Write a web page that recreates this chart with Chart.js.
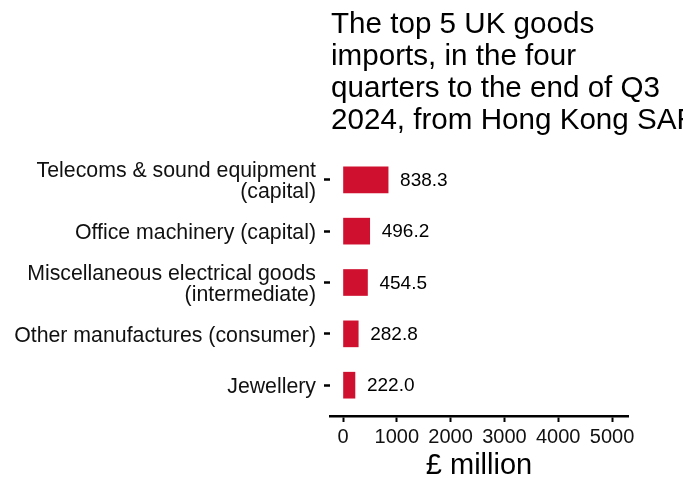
<!DOCTYPE html>
<html lang="en">
<head>
  <meta charset="UTF-8" />
  <title>Top 5 UK goods imports from Hong Kong SAR</title>
  <script src="https://cdn.jsdelivr.net/npm/chart.js"></script>
  <style>
    html, body { margin: 0; padding: 0; background: #fff; }
    #wrap { width: 683px; height: 478px; position: relative; }
  </style>
</head>
<body>
  <div id="wrap"><canvas id="importsChart"></canvas></div>

  <script>
    // Values
    var categories = [
      ['Telecoms & sound equipment', '(capital)'],
      'Office machinery (capital)',
      ['Miscellaneous electrical goods', '(intermediate)'],
      'Other manufactures (consumer)',
      'Jewellery'
    ];
    var importValues = [838.3, 496.2, 454.5, 282.8, 222.0];
    var xTickValues = [0, 1000, 2000, 3000, 4000, 5000];
    var titleLines = [
      'The top 5 UK goods',
      'imports, in the four',
      'quarters to the end of Q3',
      '2024, from Hong Kong SAR'
    ];

    var FONT = "'Liberation Sans', Arial, sans-serif";
    var BAR_RED = '#CF102E';

    // bars sit on a linear index axis so the end padding matches ggplot (0.6 of a slot)
    var points = importValues.map(function(v, i) { return { x: v, y: i }; });

    // title, left aligned with the plot panel
    var titlePlugin = {
      id: 'panelTitle',
      afterDraw: function(chart) {
        var ctx = chart.ctx;
        ctx.save();
        ctx.font = '29.6px ' + FONT;
        ctx.fillStyle = '#000';
        ctx.textAlign = 'left';
        ctx.textBaseline = 'alphabetic';
        titleLines.forEach(function(line, i) {
          ctx.fillText(line, chart.chartArea.left + 1, 33 + i * 32);
        });
        ctx.restore();
      }
    };

    // value labels to the right of each bar
    var valueLabels = {
      id: 'valueLabels',
      afterDatasetsDraw: function(chart) {
        var ctx = chart.ctx;
        var meta = chart.getDatasetMeta(0);
        ctx.save();
        ctx.font = '19px ' + FONT;
        ctx.fillStyle = '#000';
        ctx.textAlign = 'left';
        ctx.textBaseline = 'middle';
        meta.data.forEach(function(bar, i) {
          ctx.fillText(importValues[i].toFixed(1), bar.x + 12, bar.y + 1);
        });
        ctx.restore();
      }
    };

    new Chart(document.getElementById('importsChart'), {
      type: 'bar',
      data: {
        datasets: [{
          data: points,
          backgroundColor: BAR_RED,
          borderWidth: 0,
          barThickness: 26
        }]
      },
      options: {
        indexAxis: 'y',
        responsive: true,
        maintainAspectRatio: false,
        animation: false,
        layout: { padding: { top: 149, right: 55, bottom: 0, left: 0 } },
        plugins: {
          legend: { display: false },
          tooltip: { enabled: false }
        },
        scales: {
          y: {
            type: 'linear',
            reverse: true,
            offset: false,
            min: -0.6,
            max: 4.6,
            afterBuildTicks: function(scale) {
              scale.ticks = categories.map(function(c, i) { return { value: i }; });
            },
            afterFit: function(scale) { scale.width = 330; },
            border: { display: false },
            grid: {
              offset: false,
              drawOnChartArea: false,
              color: '#000',
              tickColor: '#000',
              tickLength: 6,
              tickWidth: 2.5
            },
            ticks: {
              padding: 8,
              labelOffset: 2,
              color: '#111',
              font: { family: FONT, size: 21.3, lineHeight: 1.0 },
              callback: function(value) { return categories[value]; }
            }
          },
          x: {
            type: 'linear',
            min: -242,
            max: 5297,
            afterBuildTicks: function(scale) {
              scale.ticks = xTickValues.map(function(v) { return { value: v }; });
            },
            afterFit: function(scale) { scale.height = 62; },
            border: { display: true, color: '#000', width: 2.5 },
            grid: {
              drawOnChartArea: false,
              color: '#000',
              tickColor: '#000',
              tickLength: 6,
              tickWidth: 2
            },
            ticks: {
              padding: 3,
              maxRotation: 0,
              autoSkip: false,
              color: '#111',
              font: { family: FONT, size: 20 },
              callback: function(value) { return String(value); }
            },
            title: {
              display: true,
              text: '£ million',
              color: '#000',
              font: { family: FONT, size: 29, lineHeight: 0.8 },
              padding: { top: 0, bottom: 0 }
            }
          }
        }
      },
      plugins: [titlePlugin, valueLabels]
    });
  </script>
</body>
</html>
